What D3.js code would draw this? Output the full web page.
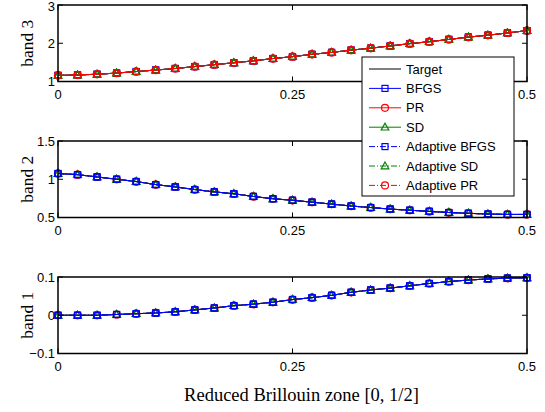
<!DOCTYPE html>
<html><head><meta charset="utf-8">
<script src="https://cdn.jsdelivr.net/npm/d3@7"></script>
<style>body{margin:0;background:#fff}svg{display:block}</style>
</head><body>
<svg id="c" width="545" height="412"></svg>
<script>
// ---- data ----
const kPoints = [0,1,2,3,4,5,6,7,8,9,10,11,12,13,14,15,16,17,18,19,20,21,22,23,24].map(i => i * 0.5 / 24);
const band3 = [1.16,1.17,1.19,1.22,1.26,1.30,1.34,1.39,1.44,1.49,1.54,1.60,1.65,1.71,1.76,1.82,1.87,1.93,1.99,2.04,2.10,2.16,2.21,2.27,2.33];
const band2 = [1.075,1.06,1.03,1.00,0.97,0.93,0.90,0.865,0.835,0.81,0.775,0.745,0.725,0.70,0.675,0.65,0.63,0.61,0.595,0.58,0.565,0.555,0.545,0.54,0.54];
const band1 = [0.000,0.000,0.000,0.002,0.004,0.006,0.009,0.014,0.019,0.025,0.029,0.034,0.041,0.046,0.052,0.060,0.066,0.071,0.077,0.083,0.088,0.092,0.095,0.097,0.098];
const seriesNames = ["Target","BFGS","PR","SD","Adaptive BFGS","Adaptive SD","Adaptive PR"];
const seriesColors = ["#000000","#0000ff","#ff0000","#008000","#0000ff","#008000","#ff0000"];
const seriesMarkers = ["none","square","circle","triangle","square","triangle","circle"];
const seriesDash = ["none","none","none","none","6,2,1,2","6,2,1,2","6,2,1,2"];
const xTicks = [0, 0.25, 0.5];
const xTickLabels = ["0","0.25","0.5"];
const panels = [
  {label:"band 3", values: band3, domain:[1,3], ticks:[1,2,3], tickLabels:["1","2","3"], order:[0,1,4,3,5,2,6]},
  {label:"band 2", values: band2, domain:[0.5,1.5], ticks:[0.5,1,1.5], tickLabels:["0.5","1","1.5"], order:[0,2,6,3,5,4,1]},
  {label:"band 1", values: band1, domain:[-0.1,0.1], ticks:[-0.1,0,0.1], tickLabels:["\u22120.1","0","0.1"], order:[0,2,6,3,5,4,1]}
];
const xLabel = "Reduced Brillouin zone [0, 1/2]";

// ---- layout ----
const svg = d3.select("#c");
const left = 58, right = 527;
const panelTops = [5, 141, 277], panelH = 76.5;
const x = d3.scaleLinear().domain([0,0.5]).range([left,right]);
const sans = "'Liberation Sans', Arial, sans-serif";
const serif = "'Liberation Serif', 'DejaVu Serif', serif";

function marker(g, type, cx, cy, color){
  if(type==="square") g.append("rect").attr("x",cx-3).attr("y",cy-3).attr("width",6).attr("height",6).attr("fill","none").attr("stroke",color).attr("stroke-width",1.2);
  else if(type==="circle") g.append("circle").attr("cx",cx).attr("cy",cy).attr("r",3.5).attr("fill","none").attr("stroke",color).attr("stroke-width",1.2);
  else if(type==="triangle") g.append("path").attr("d",`M${cx},${cy-4}L${cx+3.8},${cy+2.8}L${cx-3.8},${cy+2.8}Z`).attr("fill","none").attr("stroke",color).attr("stroke-width",1.2);
}

panels.forEach((p,pi)=>{
  const top = panelTops[pi], bot = top + panelH;
  const y = d3.scaleLinear().domain(p.domain).range([bot, top]);
  const g = svg.append("g");
  const dg = g.append("g");
  const line = d3.line().x((d,i)=>x(kPoints[i])).y(d=>y(d));
  p.order.forEach(si=>{
    dg.append("path").datum(p.values).attr("d",line).attr("fill","none")
      .attr("stroke",seriesColors[si]).attr("stroke-width",1)
      .attr("stroke-dasharray",seriesDash[si]==="none"?null:seriesDash[si]);
    if(seriesMarkers[si]!=="none"){
      p.values.forEach((v,i)=>marker(dg, seriesMarkers[si], x(kPoints[i]), y(v), seriesColors[si]));
    }
  });
  // frame
  g.append("rect").attr("x",left).attr("y",top).attr("width",right-left).attr("height",panelH)
    .attr("fill","none").attr("stroke","#000").attr("stroke-width",1.5);
  // y ticks (inside, both sides)
  p.ticks.forEach((t,i)=>{
    g.append("line").attr("x1",left).attr("x2",left+5).attr("y1",y(t)).attr("y2",y(t)).attr("stroke","#000");
    g.append("line").attr("x1",right).attr("x2",right-5).attr("y1",y(t)).attr("y2",y(t)).attr("stroke","#000");
    const ly = Math.max(y(t), 6.5);
    g.append("text").attr("x",left-3).attr("y",ly).attr("dy","0.35em").attr("text-anchor","end")
      .attr("font-family",sans).attr("font-size",13).text(p.tickLabels[i]);
  });
  // x ticks
  xTicks.forEach((t,i)=>{
    g.append("line").attr("x1",x(t)).attr("x2",x(t)).attr("y1",bot).attr("y2",bot-5).attr("stroke","#000");
    g.append("line").attr("x1",x(t)).attr("x2",x(t)).attr("y1",top).attr("y2",top+5).attr("stroke","#000");
    g.append("text").attr("x",x(t)).attr("y",bot+17).attr("text-anchor","middle")
      .attr("font-family",sans).attr("font-size",13).text(xTickLabels[i]);
  });
  // y label
  g.append("text").attr("transform",`translate(27,${top+panelH/2}) rotate(-90)`).attr("dy","0.35em")
    .attr("text-anchor","middle").attr("font-family",serif).attr("font-size",17.5).text(p.label);
});

// x label
svg.append("text").attr("x",(left+right)/2 + 9).attr("y",401).attr("text-anchor","middle")
  .attr("font-family",serif).attr("font-size",18.5).text(xLabel);

// legend
const lg = svg.append("g");
lg.append("rect").attr("x",362).attr("y",57).attr("width",152).attr("height",139).attr("fill","#fff").attr("stroke","#000").attr("stroke-width",1);
seriesNames.forEach((n,i)=>{
  const yy = 69 + i*19.4;
  lg.append("line").attr("x1",369).attr("x2",401).attr("y1",yy).attr("y2",yy).attr("stroke",seriesColors[i]).attr("stroke-width",1)
    .attr("stroke-dasharray",seriesDash[i]==="none"?null:seriesDash[i]);
  if(seriesMarkers[i]!=="none") marker(lg, seriesMarkers[i], 385, yy, seriesColors[i]);
  lg.append("text").attr("x",406).attr("y",yy).attr("dy","0.35em").attr("font-family",sans).attr("font-size",13).text(n);
});
</script>
</body></html>
